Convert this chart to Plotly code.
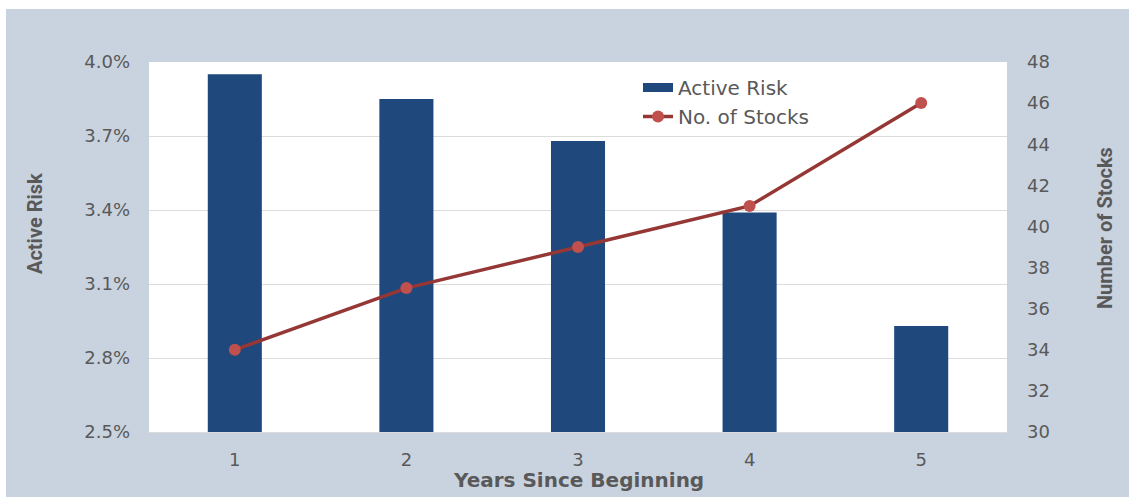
import plotly.graph_objects as go

years = ["1", "2", "3", "4", "5"]
active_risk = [3.95, 3.85, 3.68, 3.39, 2.93]
num_stocks = [34, 37, 39, 41, 46]
left_ticks = [2.5, 2.8, 3.1, 3.4, 3.7, 4.0]
left_tick_text = ["2.5%", "2.8%", "3.1%", "3.4%", "3.7%", "4.0%"]
right_ticks = [30, 32, 34, 36, 38, 40, 42, 44, 46, 48]

BG = "#c9d3df"
BAR = "#1f497d"
LINE = "#953735"
MARK = "#c0504d"
TXT = "#595959"
GRID = "#dcdcdc"

W, H = 1129, 497
L, R, T, B = 149, 122, 62, 65
pw, ph = W - L - R, H - T - B

def px_x(p):
    return (p - L) / pw

def px_y(p):
    return 1 - (p - T) / ph

fig = go.Figure()
fig.add_trace(go.Bar(
    x=years, y=active_risk, name="Active Risk",
    marker=dict(color=BAR, line=dict(width=0)), width=0.315,
    yaxis="y", showlegend=False,
))
# legend entry drawn as a wide bar swatch
fig.add_trace(go.Scatter(
    x=[None], y=[None], name="Active Risk", mode="lines",
    line=dict(color=BAR, width=9), yaxis="y",
))
fig.add_trace(go.Scatter(
    x=years, y=num_stocks, name="No. of Stocks", mode="lines+markers",
    line=dict(color=LINE, width=3.5),
    marker=dict(color=MARK, size=12),
    yaxis="y2",
))

tickfont = dict(family="DejaVu Sans", size=18, color=TXT)
titlefont = dict(family="Roboto", size=20, color=TXT)

fig.update_layout(
    width=W, height=H,
    margin=dict(l=L, r=R, t=T, b=B),
    paper_bgcolor=BG,
    plot_bgcolor="white",
    showlegend=True,
    legend=dict(
        x=px_x(638), y=px_y(68), xanchor="left", yanchor="top",
        bgcolor="rgba(0,0,0,0)",
        font=dict(family="DejaVu Sans", size=20, color=TXT),
        traceorder="normal",
    ),
    xaxis=dict(
        type="category", tickfont=tickfont, ticks="", showgrid=False,
        showline=True, linecolor=GRID, linewidth=1, ticklabelstandoff=11,
    ),
    yaxis=dict(
        range=[2.5, 4.0], tickvals=left_ticks, ticktext=left_tick_text,
        tickfont=tickfont, showgrid=True, gridcolor=GRID, gridwidth=1,
        zeroline=False, ticks="", ticklabelstandoff=18,
    ),
    yaxis2=dict(
        range=[30, 48], tickvals=right_ticks, overlaying="y", side="right",
        tickfont=tickfont, showgrid=False, zeroline=False, ticks="",
        ticklabelstandoff=19,
    ),
    shapes=[
        dict(type="rect", xref="paper", yref="paper",
             x0=px_x(-5), x1=px_x(W + 5), y0=px_y(9), y1=px_y(-5),
             fillcolor="white", line=dict(width=0), layer="below"),
        dict(type="rect", xref="paper", yref="paper",
             x0=px_x(-5), x1=px_x(6), y0=px_y(H + 5), y1=px_y(-5),
             fillcolor="white", line=dict(width=0), layer="below"),
    ],
    annotations=[
        dict(text="<b>Active Risk</b>", xref="paper", yref="paper",
             x=px_x(35), y=px_y(224), textangle=-90, showarrow=False,
             font=titlefont, xanchor="center", yanchor="middle"),
        dict(text="<b>Number of Stocks</b>", xref="paper", yref="paper",
             x=px_x(1105), y=px_y(228), textangle=-90, showarrow=False,
             font=titlefont, xanchor="center", yanchor="middle"),
        dict(text="<b>Years Since Beginning</b>", xref="paper", yref="paper",
             x=px_x(578), y=px_y(480), showarrow=False,
             font=dict(family="DejaVu Sans", size=20, color=TXT),
             xanchor="center", yanchor="middle"),
    ],
)

fig.write_html("out.html")
